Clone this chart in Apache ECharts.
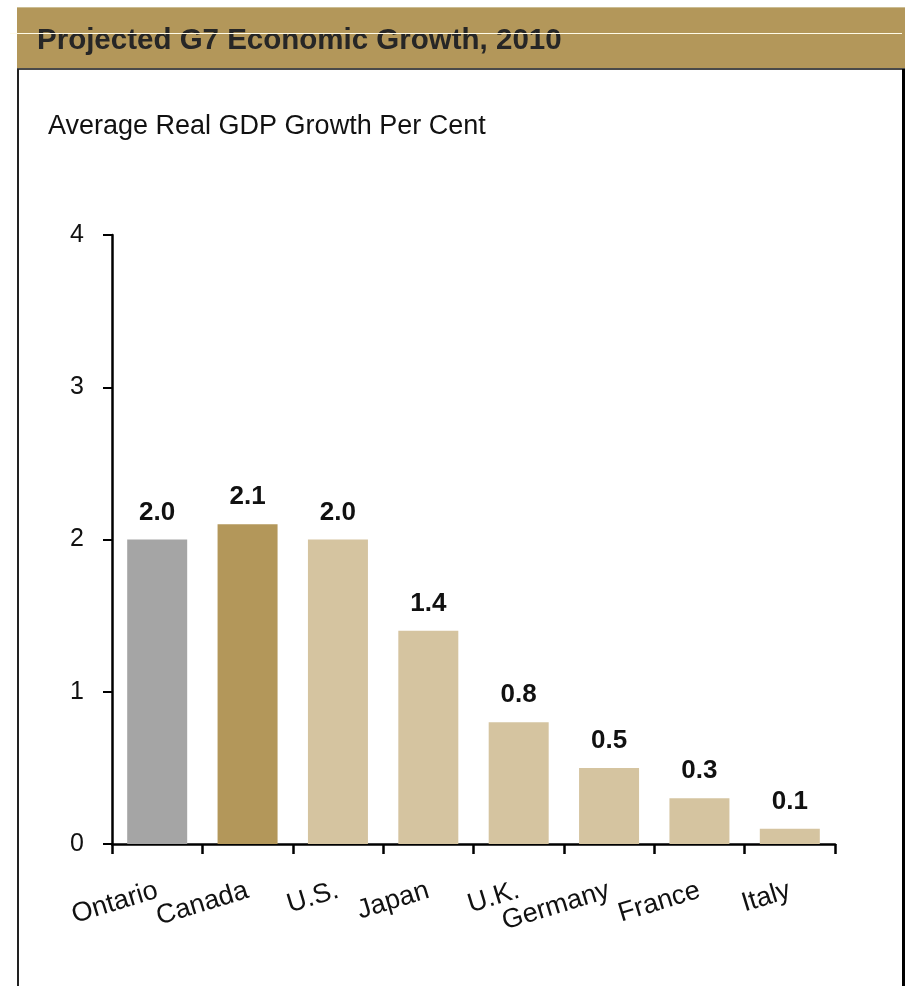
<!DOCTYPE html>
<html>
<head>
<meta charset="utf-8">
<style>
  html, body { margin: 0; padding: 0; background: #ffffff; }
  #chart { width: 905px; height: 986px; }
</style>
<script src="https://cdn.jsdelivr.net/npm/echarts@6/dist/echarts.min.js"></script>
</head>
<body>
<div id="chart"></div>
<script>
// G7 projected real GDP growth for 2010, with Ontario shown alongside
const categories = ['Ontario', 'Canada', 'U.S.', 'Japan', 'U.K.', 'Germany', 'France', 'Italy'];
const growth = [2.0, 2.1, 2.0, 1.4, 0.8, 0.5, 0.3, 0.1];
const yTicks = [0, 1, 2, 3, 4];

const titleText = 'Projected G7 Economic Growth, 2010';
const subtitleText = 'Average Real GDP Growth Per Cent';

const GOLD = '#b3975a';
const SAND = '#d5c4a0';
const GREY = '#a5a5a5';
const barColors = [GREY, GOLD, SAND, SAND, SAND, SAND, SAND, SAND];
const FONT = 'Liberation Sans, Arial, sans-serif';

const chart = echarts.init(document.getElementById('chart'), null, { renderer: 'canvas' });

const option = {
  backgroundColor: '#ffffff',
  animation: false,
  graphic: [
    // header band
    { type: 'rect', z: -10, shape: { x: 17, y: 7, width: 888, height: 62 }, style: { fill: GOLD } },
    { type: 'line', z: -9, shape: { x1: 17, y1: 7.5, x2: 905, y2: 7.5 }, style: { stroke: '#cbbd93', lineWidth: 1 } },
    { type: 'line', z: -9, shape: { x1: 17, y1: 69, x2: 905, y2: 69 }, style: { stroke: '#4a4a4a', lineWidth: 2 } },
    {
      type: 'text', z: 2, x: 37, y: 41,
      style: { text: titleText, fill: '#262626', font: 'bold 29.5px ' + FONT, verticalAlign: 'middle', align: 'left' }
    },
    { type: 'line', z: 5, shape: { x1: 10, y1: 33.5, x2: 902, y2: 33.5 }, style: { stroke: '#fffbe8', lineWidth: 1 } },
    // panel frame
    { type: 'line', z: -9, shape: { x1: 18, y1: 69, x2: 18, y2: 986 }, style: { stroke: '#222222', lineWidth: 2 } },
    { type: 'line', z: -9, shape: { x1: 903.5, y1: 69, x2: 903.5, y2: 986 }, style: { stroke: '#000000', lineWidth: 3 } },
    // units caption
    {
      type: 'text', z: 2, x: 48, y: 127,
      style: { text: subtitleText, fill: '#111111', font: 'normal 27px ' + FONT, verticalAlign: 'middle', align: 'left' }
    }
  ],
  grid: { left: 112, right: 70, top: 235, bottom: 142, containLabel: false },
  xAxis: {
    type: 'category',
    data: categories,
    boundaryGap: true,
    axisLine: { show: true, lineStyle: { color: '#000000', width: 2.5 } },
    axisTick: { show: true, length: 10, alignWithLabel: false, lineStyle: { color: '#000000', width: 2.5 } },
    axisLabel: {
      rotate: 17,
      margin: 46,
      fontSize: 27,
      fontFamily: FONT,
      color: '#111111',
      interval: 0
    },
    splitLine: { show: false }
  },
  yAxis: {
    type: 'value',
    min: yTicks[0],
    max: yTicks[yTicks.length - 1],
    interval: 1,
    axisLine: { show: true, lineStyle: { color: '#000000', width: 2.5 } },
    axisTick: { show: true, inside: false, length: 9, lineStyle: { color: '#000000', width: 2 } },
    axisLabel: {
      margin: 28,
      fontSize: 25,
      fontFamily: FONT,
      color: '#111111'
    },
    splitLine: { show: false }
  },
  series: [
    {
      type: 'bar',
      barWidth: 60,
      data: growth.map(function (v, i) {
        return { value: v, itemStyle: { color: barColors[i] } };
      }),
      label: {
        show: true,
        position: 'top',
        distance: 14,
        fontSize: 26,
        fontWeight: 'bold',
        fontFamily: FONT,
        color: '#111111',
        formatter: function (p) { return p.value.toFixed(1); }
      }
    }
  ]
};

chart.setOption(option);
</script>
</body>
</html>
